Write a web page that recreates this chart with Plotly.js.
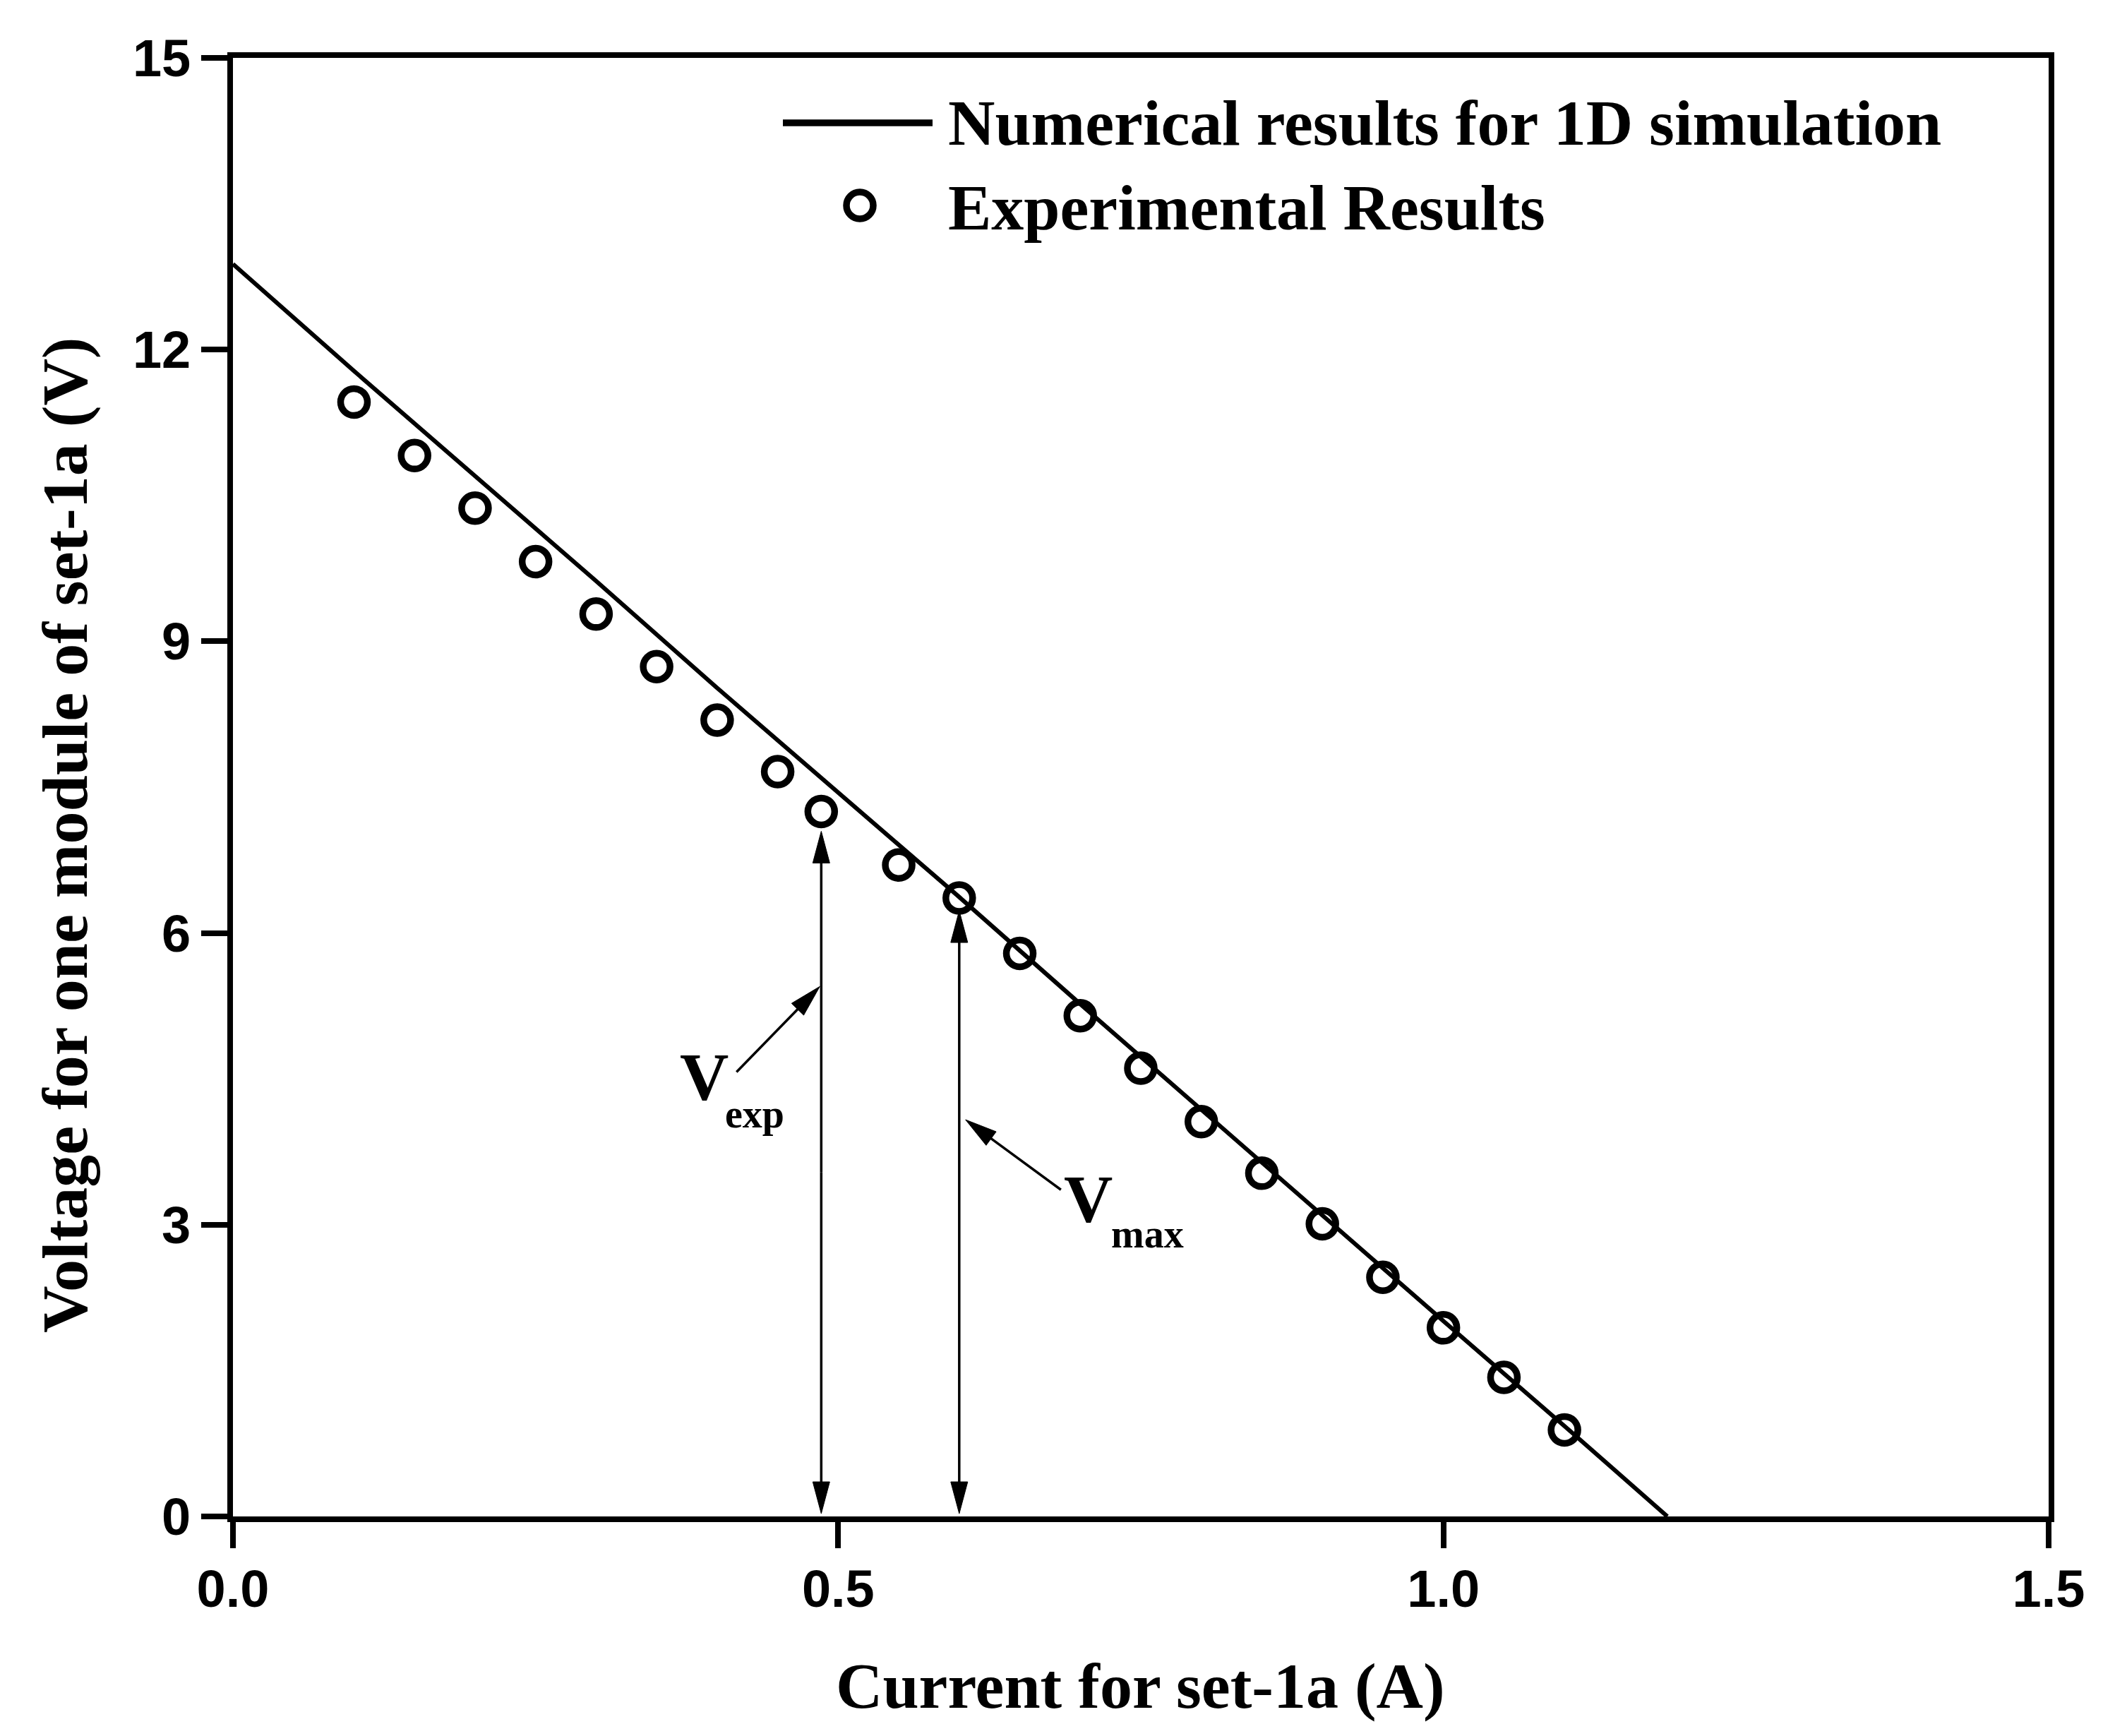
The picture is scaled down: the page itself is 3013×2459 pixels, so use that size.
<!DOCTYPE html>
<html>
<head>
<meta charset="utf-8">
<script src="https://cdn.plot.ly/plotly-3.0.1.min.js"></script>
<style>html,body{margin:0;padding:0;background:#fff;}#chart{width:3013px;height:2459px;}</style>
</head>
<body>
<div id="chart"></div>
<script>
// ---- data ----
const simCurrent = [0, 0.1, 0.2, 0.3, 0.4, 0.5, 0.6, 0.7, 0.8, 0.9, 1.0, 1.1, 1.185];
const simVoltage = [12.88, 11.78, 10.70, 9.62, 8.52, 7.45, 6.37, 5.27, 4.18, 3.09, 2.01, 0.93, 0];

const expCurrent = [0.1, 0.15, 0.2, 0.25, 0.3, 0.35, 0.4, 0.45, 0.486, 0.55, 0.6, 0.65, 0.7, 0.75, 0.8, 0.85, 0.9, 0.95, 1.0, 1.05, 1.1];
const expVoltage = [11.46, 10.91, 10.37, 9.82, 9.28, 8.74, 8.19, 7.66, 7.25, 6.70, 6.36, 5.79, 5.15, 4.61, 4.06, 3.53, 3.01, 2.46, 1.94, 1.43, 0.89];

const xTickVals = [0, 0.5, 1.0, 1.5];
const xTickText = ['0.0', '0.5', '1.0', '1.5'];
const yTickVals = [0, 3, 6, 9, 12, 15];
const yTickText = ['0', '3', '6', '9', '12', '15'];

const legendNames = ['Numerical results for 1D simulation', 'Experimental Results'];
const xTitle = 'Current for set-1a (A)';
const yTitle = 'Voltage for one module of set-1a (V)';

// indices of the highlighted experimental points
const expIdx = 8;   // V_exp
const maxIdx = 10;  // V_max
// label arrows (data coordinates)
const expLabelTail = [0.416, 4.57], expLabelHead = [0.4848, 5.45];
const maxLabelTail = [0.684, 3.36], maxLabelHead = [0.6052, 4.08];

// ---- layout geometry ----
const W = 3013, H = 2459;
const L = 330, R = 2902, T = 82, B = 2148;
const PW = R - L, PH = B - T;
const XR = [0, 1.5], YR = [0, 15];
const sx = PW / (XR[1] - XR[0]);
const sy = PH / (YR[1] - YR[0]);
const PX = p => (p - L) / PW;
const PY = p => (B - p) / PH;

const serif = 'Liberation Serif, Times New Roman, serif';
const sans = 'Liberation Sans, Arial, sans-serif';

const traces = [
  {
    x: simCurrent, y: simVoltage, type: 'scatter', mode: 'lines',
    name: legendNames[0], line: {color: '#000', width: 6}, showlegend: false
  },
  {
    x: expCurrent, y: expVoltage, type: 'scatter', mode: 'markers',
    name: legendNames[1], showlegend: false,
    marker: {symbol: 'circle-open', size: 38, color: '#000', line: {width: 9.5, color: '#000'}}
  }
];

const shapes = [];
const HEAD_L = 45, HEAD_W = 24, ARW = 3.5;
function arrow(tail, head) {
  const dx = (head[0] - tail[0]) * sx, dy = (head[1] - tail[1]) * sy;
  const len = Math.hypot(dx, dy);
  const ux = dx / len, uy = dy / len;
  const nx = -uy, ny = ux;
  const bx = head[0] - (HEAD_L - 4) * ux / sx, by = head[1] - (HEAD_L - 4) * uy / sy;
  shapes.push({type: 'line', xref: 'x', yref: 'y', x0: tail[0], y0: tail[1], x1: bx, y1: by,
    line: {color: '#000', width: ARW}});
  const c1x = -HEAD_L * ux + HEAD_W / 2 * nx, c1y = -HEAD_L * uy + HEAD_W / 2 * ny;
  const c2x = -HEAD_L * ux - HEAD_W / 2 * nx, c2y = -HEAD_L * uy - HEAD_W / 2 * ny;
  shapes.push({type: 'path', xref: 'x', yref: 'y', xsizemode: 'pixel', ysizemode: 'pixel',
    xanchor: head[0], yanchor: head[1],
    path: `M0,0 L${c1x.toFixed(2)},${c1y.toFixed(2)} L${c2x.toFixed(2)},${c2y.toFixed(2)} Z`,
    fillcolor: '#000', line: {color: '#000', width: 1}});
}
function doubleArrow(x, yTop, yBot) {
  const top = [x, yTop], bot = [x, yBot];
  const mid = [x, (yTop + yBot) / 2];
  arrow(mid, top);
  arrow(mid, bot);
}
doubleArrow(expCurrent[expIdx], expVoltage[expIdx] - 28 / sy, 4 / sy);
doubleArrow(expCurrent[maxIdx], expVoltage[maxIdx] - 18 / sy, 4 / sy);
arrow(expLabelTail, expLabelHead);
arrow(maxLabelTail, maxLabelHead);

// legend keys
shapes.push({type: 'line', xref: 'paper', yref: 'paper', x0: PX(1109), x1: PX(1321), y0: PY(174), y1: PY(174),
  line: {color: '#000', width: 9.5}});
shapes.push({type: 'circle', xref: 'paper', yref: 'paper',
  x0: PX(1218 - 19), x1: PX(1218 + 19), y0: PY(291 + 19), y1: PY(291 - 19),
  line: {color: '#000', width: 9.5}, fillcolor: 'rgba(0,0,0,0)'});

const ann = (text, x, y, size, xanchor, extra) => Object.assign({
  text: text, xref: 'paper', yref: 'paper', x: x, y: y, showarrow: false,
  xanchor: xanchor || 'center', yanchor: 'middle',
  font: {family: serif, size: size, color: '#000', weight: 'bold'}
}, extra || {});

const annotations = [
  ann(xTitle, PX(1615), PY(2388), 92),
  ann(yTitle, PX(92), PY(1183), 92, 'center', {textangle: -90}),
  ann(legendNames[0], PX(1341), PY(174), 92, 'left'),
  ann(legendNames[1], PX(1341), PY(294), 92, 'left'),
  ann('V', PX(997), PY(1526), 96),
  ann('exp', PX(1025), PY(1578), 56, 'left'),
  ann('V', PX(1541), PY(1698), 96),
  ann('max', PX(1572), PY(1748), 56, 'left')
];

const axisCommon = {
  showgrid: false, zeroline: false, showline: true, linecolor: '#000', linewidth: 8, mirror: true,
  ticks: 'outside', ticklen: 37, tickwidth: 8, tickcolor: '#000',
  tickfont: {family: sans, size: 74, color: '#000', weight: 'bold'}, fixedrange: true
};

const layout = {
  width: W, height: H,
  margin: {l: L, r: W - R, t: T, b: H - B, pad: 0},
  paper_bgcolor: '#fff', plot_bgcolor: '#fff',
  showlegend: false,
  xaxis: Object.assign({}, axisCommon, {range: XR, tickvals: xTickVals, ticktext: xTickText, ticklabelstandoff: -6}),
  yaxis: Object.assign({}, axisCommon, {range: YR, tickvals: yTickVals, ticktext: yTickText}),
  shapes: shapes,
  annotations: annotations
};

Plotly.newPlot('chart', traces, layout, {displayModeBar: false, staticPlot: true});
</script>
</body>
</html>
